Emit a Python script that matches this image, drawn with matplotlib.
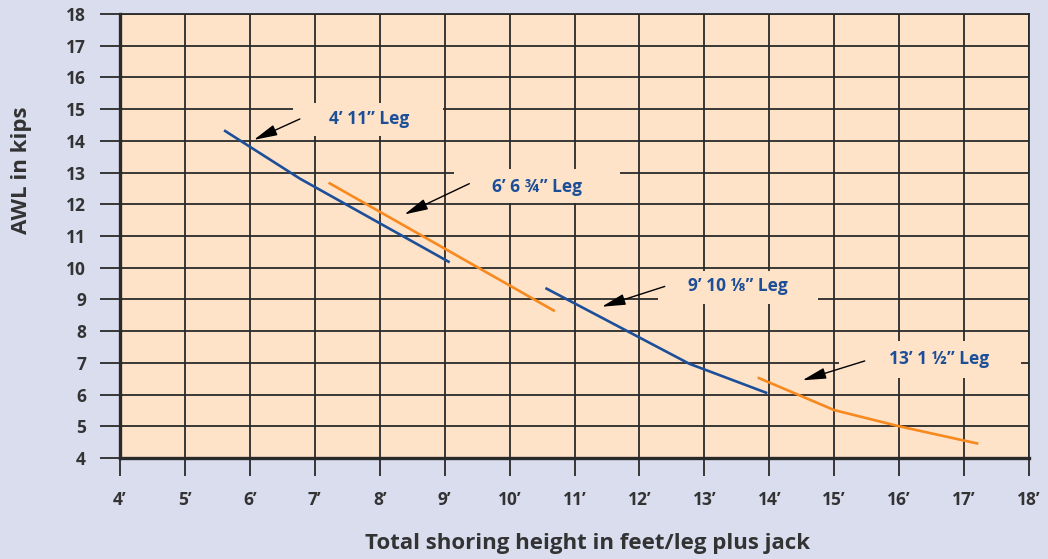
import matplotlib
matplotlib.use("Agg")
import matplotlib.pyplot as plt
from matplotlib.patches import Rectangle

plt.rcParams['font.family'] = ['Open Sans', 'DejaVu Sans']

# feet on x, kips on y
leg1_x = [5.62, 6.77, 9.06]
leg1_y = [14.31, 12.81, 10.19]
leg2_x = [7.23, 10.68]
leg2_y = [12.66, 8.65]
leg3_x = [10.57, 12.77, 13.95]
leg3_y = [9.34, 6.97, 6.06]
leg4_x = [13.84, 15.0, 16.0, 17.2]
leg4_y = [6.52, 5.51, 5.0, 4.46]

leg_names = ["4\u2019 11\u201d Leg", "6\u2019 6 \u00be\u201d Leg",
             "9\u2019 10 \u215b\u201d Leg", "13\u2019 1 \u00bd\u201d Leg"]

x_ticks = list(range(4, 19))
x_labels = [f"{v}\u2019" for v in x_ticks]
y_ticks = list(range(4, 19))

blue = '#1d4f99'
orange = '#f7891e'
peach = '#fee3c9'
lav = '#d9ddee'
dark = '#2a2a2a'

fig = plt.figure(figsize=(10.48, 5.59), dpi=100, facecolor=lav)
ax = fig.add_axes([120/1048, 1-458/559, (1029-120)/1048, (458-14)/559])
ax.set_facecolor(peach)
ax.set_xlim(4, 18)
ax.set_ylim(4, 18)
ax.set_axisbelow(True)
ax.grid(True, color=dark, lw=1.3)

ax.set_xticks(x_ticks)
ax.set_xticklabels(x_labels)
ax.set_yticks(y_ticks)
ax.tick_params(axis='x', length=13, width=1.3, color=dark, pad=11,
               labelsize=12.5, labelcolor='#333333')
ax.tick_params(axis='y', length=14.5, width=1.3, color=dark, pad=10,
               labelsize=12.5, labelcolor='#333333')
for lab in ax.get_xticklabels() + ax.get_yticklabels():
    lab.set_fontweight('bold')

for s in ['left', 'bottom']:
    ax.spines[s].set_linewidth(2.4)
    ax.spines[s].set_color(dark)
for s in ['top', 'right']:
    ax.spines[s].set_linewidth(1.3)
    ax.spines[s].set_color(dark)

# label boxes that break the grid
boxes = [(6.66, 14.16, 8.98, 15.19), (9.14, 12.03, 11.70, 13.10),
         (12.29, 8.87, 14.75, 9.90), (15.08, 6.52, 17.88, 7.68)]
for x0, y0, x1, y1 in boxes:
    ax.add_patch(Rectangle((x0, y0), x1 - x0, y1 - y0, facecolor=peach,
                           edgecolor='none', zorder=1))

lw = 1.9
ax.plot(leg1_x, leg1_y, color=blue, lw=lw, zorder=2)
ax.plot(leg2_x, leg2_y, color=orange, lw=lw, zorder=2)
ax.plot(leg3_x, leg3_y, color=blue, lw=lw, zorder=2)
ax.plot(leg4_x, leg4_y, color=orange, lw=lw, zorder=2)

heads = [(6.06, 14.03), (8.38, 11.68), (11.42, 8.77), (14.51, 6.45)]
tails = [(6.77, 14.69), (9.38, 12.65), (12.39, 9.41), (15.47, 7.06)]
text_pos = [(7.83, 14.69), (10.42, 12.56), (13.52, 9.41), (16.62, 7.13)]

for name, h, t, p in zip(leg_names, heads, tails, text_pos):
    ax.annotate('', xy=h, xytext=t, zorder=3,
                arrowprops=dict(arrowstyle='-|>,head_length=1.2,head_width=0.28',
                                color='black', lw=1, shrinkA=0, shrinkB=0,
                                mutation_scale=12))
    ax.text(p[0], p[1], name, color=blue, fontsize=12.5, fontweight='bold',
            ha='center', va='center', zorder=4)

fig.text(22/1048, 1-170/559, 'AWL in kips', rotation=90, ha='center',
         va='center', fontsize=16, fontweight='bold', color='#333333')
fig.text(588/1048, 1-543/559, 'Total shoring height in feet/leg plus jack',
         ha='center', va='center', fontsize=16, fontweight='bold',
         color='#333333')

fig.savefig('out.png', dpi=100, facecolor=lav)
